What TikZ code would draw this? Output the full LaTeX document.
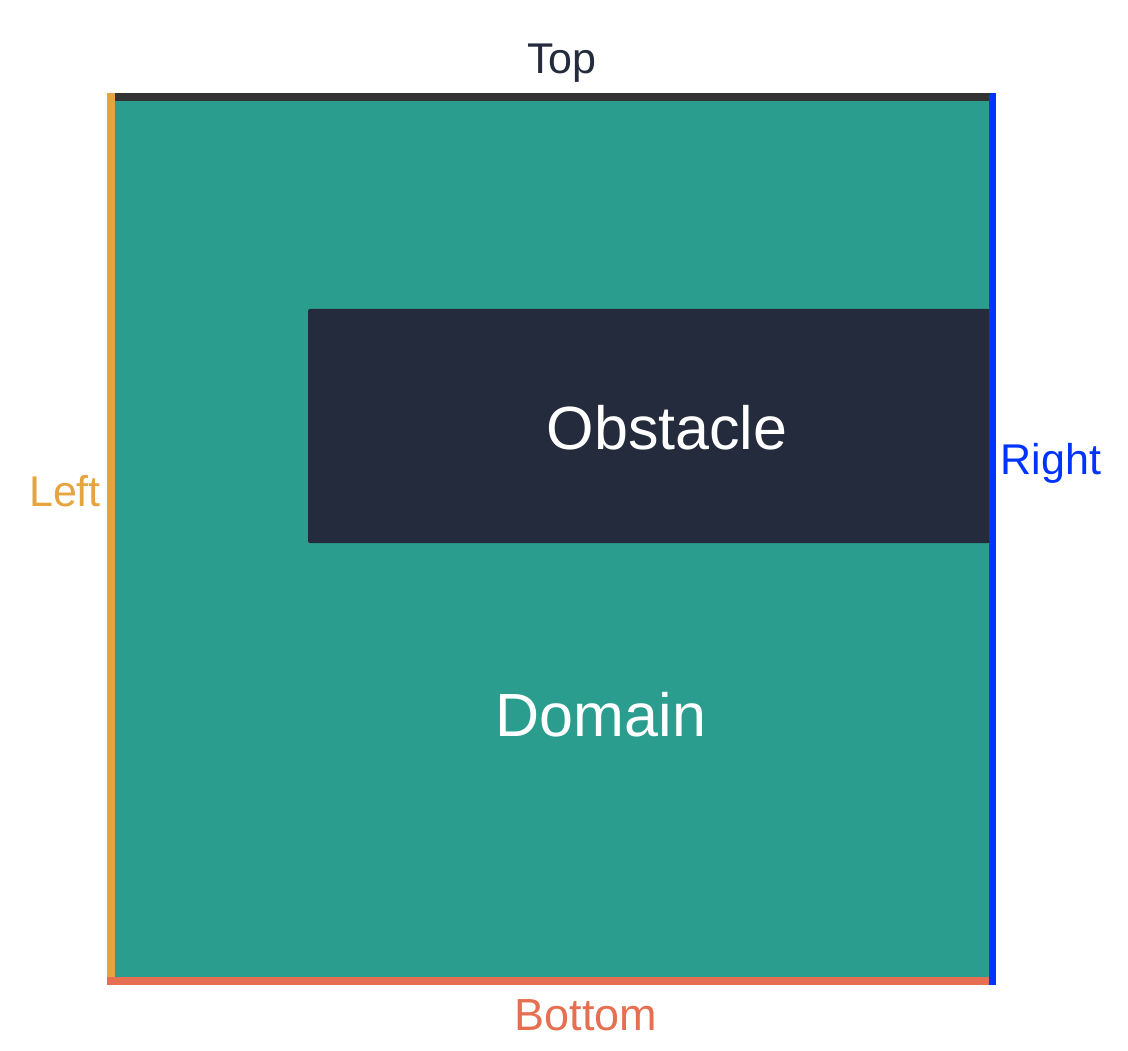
\documentclass[tikz,border=0pt]{standalone}
\usepackage{fontspec}
\setmainfont{Liberation Sans}
\definecolor{domainfill}{HTML}{2A9D8F}
\definecolor{obstaclefill}{HTML}{232B3C}
\definecolor{topedge}{HTML}{333333}
\definecolor{leftedge}{HTML}{E6A43F}
\definecolor{bottomedge}{HTML}{E76F51}
\definecolor{rightedge}{HTML}{0033FF}
\definecolor{toplabel}{HTML}{232B3C}
\tikzset{
  edge/.style={line width=8pt},
  sidelabel/.style={font=\fontsize{43}{50}\selectfont, inner sep=0pt, anchor=base},
  biglabel/.style={font=\fontsize{61}{72}\selectfont, text=white, inner sep=0pt, anchor=base},
}
\begin{document}
\begin{tikzpicture}[x=1pt,y=-1pt]
  \useasboundingbox (0,0) rectangle (1128,1051);
  % domain area
  \fill[domainfill] (111,97) rectangle (992,981);
  % obstacle block attached to the right wall
  \fill[obstaclefill, rounded corners=2pt] (308,309) rectangle (990,543);
  % boundary corners
  \coordinate (tl) at (111,97);
  \coordinate (tr) at (992.5,97);
  \coordinate (bl) at (111,981);
  \coordinate (br) at (992.5,981);
  % boundary edges
  \draw[edge, topedge] (tl) -- (tr);
  \draw[edge, leftedge] ([yshift=4pt]tl) -- (bl);
  \draw[edge, bottomedge] ([xshift=-4pt]bl) -- (br);
  \draw[edge, rightedge, line width=7pt] ([yshift=4pt]tr) -- ([yshift=-4pt]br);
  % labels
  \node[sidelabel, text=toplabel] (top) at (562,74) {Top};
  \node[sidelabel, text=bottomedge, font=\fontsize{45}{52}\selectfont] (bottom) at (586,1030) {Bottom};
  \node[sidelabel, text=leftedge] (left) at (65,506) {Left};
  \node[sidelabel, text=rightedge] (right) at (1051,474) {Right};
  \node[biglabel] (obstacle) at (667,449) {Obstacle};
  \node[biglabel] (domain) at (601,736) {Domain};
\end{tikzpicture}
\end{document}
